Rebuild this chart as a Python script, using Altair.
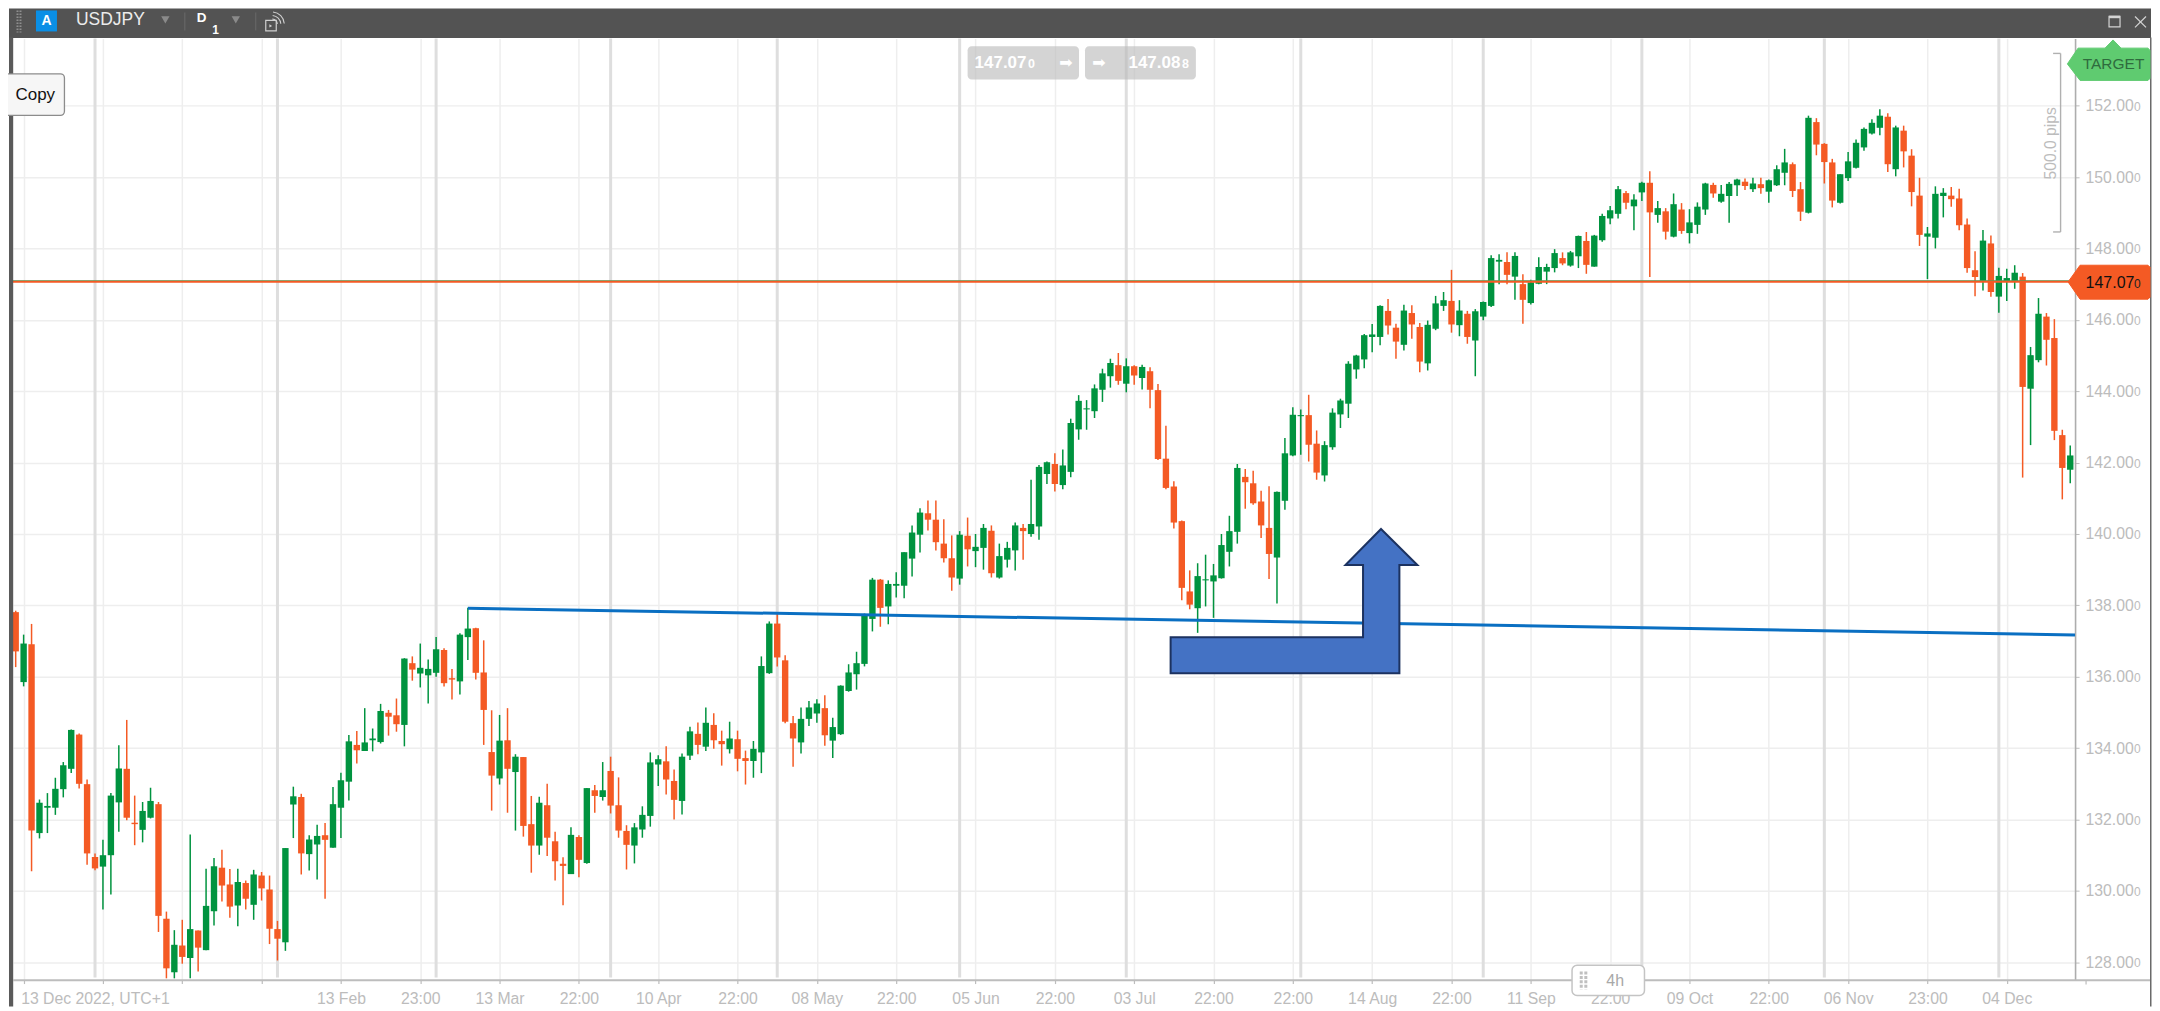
import json
import altair as alt
import pandas as pd

# ---- candle values (USDJPY daily) ----
highs = [137.85,137.18,137.48,132.56,132.74,133.17,133.61,134.52,134.41,133.12,
131.05,131.43,132.74,134.08,134.79,132.67,132.49,132.89,132.49,129.42,
128.9,129.19,131.58,128.89,130.62,130.92,131.15,130.61,130.62,130.29,
130.59,130.53,130.43,129.16,131.2,132.92,132.72,131.56,131.85,131.9,
132.91,133.31,134.37,134.48,135.12,134.55,135.24,135.07,135.39,136.52,
136.57,136.93,136.48,137.11,136.8,136.22,137.22,137.93,137.37,137.02,
135.06,134.93,135.12,133.83,133.75,132.66,132.64,133.0,131.66,130.94,
131.78,131.56,132.88,132.97,133.61,133.76,133.18,131.84,131.9,132.37,
133.88,133.8,134.05,133.4,133.85,134.6,134.72,135.14,134.98,134.49,
134.74,134.49,133.93,134.2,136.57,137.55,137.78,136.6,134.9,135.14,
135.32,135.37,135.48,134.85,135.76,136.35,136.7,137.77,138.77,138.74,
138.7,138.93,139.49,140.24,140.72,140.94,140.94,140.41,139.96,140.08,
140.46,140.0,140.28,140.24,139.73,139.78,140.32,140.28,141.52,141.93,
142.03,142.26,142.37,143.23,143.89,143.75,144.19,144.63,144.91,145.07,
144.92,144.73,144.74,144.67,144.2,143.03,141.48,140.38,138.98,139.18,
139.42,139.16,140.0,140.51,141.96,141.82,141.77,141.21,141.34,141.19,
142.69,143.55,143.49,143.9,142.9,142.6,143.52,143.79,144.84,145.02,
145.6,145.88,146.41,146.58,145.89,146.42,146.41,145.91,145.98,146.67,
146.78,147.4,146.55,146.25,146.3,146.51,147.81,147.84,147.89,147.89,
147.28,147.12,147.75,147.57,147.98,147.89,147.93,148.36,148.46,148.38,
148.97,149.19,149.75,149.61,149.52,149.87,150.16,149.33,149.13,149.54,
149.27,149.1,149.29,149.84,149.84,149.78,149.86,149.95,149.96,149.98,
149.98,149.93,150.33,150.79,150.41,149.86,151.72,151.65,150.95,150.51,
150.08,150.7,151.05,151.39,151.62,151.9,151.79,151.44,151.44,150.78,
149.98,148.6,149.74,149.69,149.72,149.67,148.84,147.92,148.52,148.36,
147.46,147.43,147.53,147.31,145.24,146.61,146.19,146.02,142.92,142.48]

body_top = [137.81,136.93,136.91,132.47,132.38,132.86,133.52,134.51,134.38,132.99,
130.95,131.0,132.67,133.43,133.42,131.91,132.24,132.52,132.43,129.22,
128.49,128.47,128.93,128.89,129.58,130.69,130.65,130.18,130.25,130.22,
130.46,130.43,130.04,128.93,131.2,132.65,132.63,131.44,131.54,131.56,
132.43,133.1,134.19,134.09,134.16,134.27,135.04,134.99,134.92,136.51,
136.38,136.25,136.22,136.77,136.75,135.96,137.18,137.35,137.36,136.12,
133.89,134.21,134.22,133.76,133.75,131.87,132.47,132.4,131.39,130.76,
131.57,131.51,132.88,132.82,132.82,133.36,132.4,131.68,131.78,132.13,
133.6,133.69,133.63,133.08,133.76,134.47,134.4,134.71,134.65,134.2,
134.27,134.25,133.72,133.98,136.3,137.49,137.49,136.46,134.7,134.82,
135.14,135.25,135.12,134.59,135.75,136.12,136.38,137.71,138.72,138.72,
138.6,138.6,139.49,140.04,140.6,140.58,140.4,139.73,139.32,139.98,
139.95,139.64,140.17,140.09,139.38,139.61,140.24,140.17,140.28,141.88,
142.01,141.96,141.92,143.11,143.73,143.52,144.08,144.5,144.79,144.73,
144.7,144.7,144.68,144.56,144.03,142.11,141.33,140.36,138.39,138.82,
138.73,138.84,139.69,140.08,141.85,141.6,141.42,140.91,140.17,141.18,
142.26,143.34,143.33,143.33,142.53,142.49,143.4,143.74,144.77,145.0,
145.57,145.59,146.39,146.25,145.78,146.26,146.19,145.8,145.86,146.46,
146.55,146.53,146.26,146.17,146.24,146.5,147.73,147.68,147.62,147.79,
147.0,147.05,147.48,147.48,147.87,147.73,147.89,148.35,148.21,148.36,
148.91,149.07,149.66,149.55,149.37,149.84,149.84,149.13,149.04,149.24,
149.09,148.73,149.17,149.82,149.78,149.53,149.81,149.93,149.87,149.82,
149.8,149.91,150.22,150.41,150.36,149.66,151.66,151.54,150.93,150.41,
150.08,150.44,150.96,151.35,151.52,151.72,151.69,151.39,151.3,150.6,
149.48,148.42,149.53,149.56,149.48,149.4,148.67,147.39,148.22,148.14,
147.23,147.17,147.32,147.21,145.01,146.17,146.09,145.49,142.77,142.2]

body_bottom = [136.71,135.85,131.69,131.62,132.33,132.33,132.85,133.42,133.0,131.05,
130.63,130.68,131.0,132.48,132.05,131.87,131.71,132.05,129.3,127.83,
127.72,128.15,128.12,128.41,128.34,129.43,130.15,129.56,129.59,129.78,
129.61,130.07,128.94,128.66,128.56,132.42,131.05,131.03,131.3,131.43,
131.21,132.33,133.06,133.94,133.92,134.22,134.17,134.88,134.67,134.65,
136.2,136.09,136.04,136.11,135.82,135.92,135.87,137.11,136.11,135.07,
133.23,133.15,133.42,133.33,131.82,131.27,131.27,131.49,130.83,130.7,
130.47,130.87,130.78,132.66,132.63,132.39,131.69,131.29,131.27,131.72,
132.1,133.54,133.12,132.55,132.52,133.79,134.09,134.04,134.22,134.11,
133.97,133.7,133.64,133.64,133.88,136.1,136.54,134.74,134.27,134.16,
134.82,134.97,134.36,134.21,134.39,135.6,136.07,136.36,137.62,137.93,
137.97,138.55,138.55,139.31,139.98,140.4,139.77,139.32,138.78,138.75,
139.57,139.52,139.61,138.9,138.78,139.28,139.54,140.08,140.0,140.21,
141.68,141.4,141.37,141.74,142.93,143.49,143.44,144.04,144.42,144.29,
144.21,144.44,144.37,144.04,142.1,141.29,140.32,138.49,138.02,137.92,
138.7,138.67,138.76,139.5,140.06,141.45,140.86,140.24,139.44,139.34,
140.93,142.2,143.3,142.5,141.72,141.64,142.43,143.35,143.65,144.61,
144.89,145.52,145.52,145.84,145.39,145.3,145.87,144.83,144.78,145.75,
146.39,145.87,145.85,145.52,145.42,146.09,146.39,147.63,147.26,147.21,
146.56,146.47,147.01,147.35,147.45,147.58,147.52,147.78,147.54,147.49,
148.23,148.84,148.97,149.28,149.18,149.57,149.01,148.94,148.47,148.33,
148.49,148.43,148.66,149.09,149.54,149.31,149.47,149.77,149.75,149.66,
149.69,149.59,149.77,150.12,149.61,149.03,149.0,150.91,150.42,149.34,
149.28,149.97,150.26,150.83,151.22,151.38,150.36,150.22,150.72,149.58,
148.38,148.33,148.3,149.47,149.38,148.65,147.45,147.2,147.09,146.78,
146.65,147.08,147.09,144.12,144.07,144.87,145.44,142.89,141.85,141.8]

lows = [136.27,135.73,130.55,131.47,131.62,132.13,132.62,133.3,132.87,130.73,
130.58,129.48,129.9,131.66,131.98,131.28,131.36,132.03,128.85,127.55,
127.55,127.96,127.55,127.74,128.34,129.03,129.7,129.25,129.01,129.48,
129.19,129.73,128.51,128.05,128.32,131.48,130.46,130.57,130.32,129.78,
131.21,131.48,132.53,133.57,133.92,133.91,134.13,134.35,134.46,134.05,
135.89,135.7,135.25,136.0,135.73,135.36,135.5,136.47,135.92,134.09,
132.25,132.98,132.19,131.69,131.52,130.51,131.01,130.98,130.29,129.6,
130.47,130.38,130.76,132.19,132.53,132.17,131.49,130.6,130.77,131.49,
131.8,132.94,132.7,132.0,132.14,133.67,133.83,133.92,133.98,133.51,
133.85,133.35,132.98,133.17,133.3,136.08,136.29,134.7,133.48,133.85,
134.62,134.71,134.07,133.72,134.37,135.58,135.64,136.29,137.27,137.4,
137.47,138.22,138.2,138.81,139.48,140.1,139.54,139.2,138.41,138.58,
139.09,139.07,139.0,138.78,138.75,139.06,138.98,139.28,139.92,139.84,
141.4,141.19,141.25,141.59,142.64,142.92,143.25,143.7,144.1,144.18,
143.97,144.18,144.05,143.52,142.07,141.25,140.15,138.14,137.89,137.23,
137.97,137.65,138.75,139.09,139.73,140.71,140.82,139.89,138.74,138.05,
140.68,142.18,142.22,142.03,141.52,141.47,142.36,142.97,143.25,144.35,
144.64,145.09,145.29,145.59,144.91,145.14,145.47,144.53,144.58,145.71,
146.25,145.64,145.54,145.33,144.42,145.99,146.36,147.0,147.0,146.56,
145.89,146.43,147.0,147.0,147.33,147.53,147.49,147.45,147.29,147.49,
148.19,148.68,148.84,149.1,148.51,149.33,147.2,148.72,148.25,148.31,
148.41,148.14,148.41,148.94,149.42,149.28,148.72,149.47,149.64,149.58,
149.53,149.28,149.75,149.77,149.44,148.77,148.98,150.61,149.82,149.15,
149.26,149.89,150.24,150.74,151.19,151.17,150.14,150.02,150.27,149.18,
148.07,147.14,148.0,148.87,149.17,148.51,147.32,146.66,146.82,146.65,
146.2,146.53,146.87,141.58,142.49,144.81,144.72,142.63,140.97,141.42]

direction = ("RGRGGGGGRR" "RGGGRRGGRR" "GRGRGGRRGR" "GRRRGGRGGR" "GGGRGGGRRG"
             "RGGGRRGGRR" "RGRGRRGRRR" "GRGRGRRRGG" "GGRRGGRGRR" "GRRGGGRRRG"
             "GGRGGGGGGR" "GGGGGRRRRG" "RGGRGGGRGG" "GRGGGGGGGR" "GRGRRRRRRG"
             "GGGGGRRRRG" "GGGRRGGGGG" "GGGRRGRRGG" "GRGRGGGGRG" "RGGGGRGGRG"
             "GGGRGGRGRG" "RGGGRGGGRG" "RGGGRRGRRR" "GGGGGGRGRR" "RGGGRRRRGR"
             "GGGRGGRRRG")

assert len(highs) == len(body_top) == len(body_bottom) == len(lows) == len(direction) == 260

tick_idx = list(range(1, 260, 10))
tick_labels = ["13 Dec 2022, UTC+1", "", "", "", "13 Feb", "23:00", "13 Mar", "22:00",
               "10 Apr", "22:00", "08 May", "22:00", "05 Jun", "22:00", "03 Jul", "22:00",
               "22:00", "14 Aug", "22:00", "11 Sep", "22:00", "09 Oct", "22:00", "06 Nov",
               "23:00", "04 Dec"]
price_ticks = list(range(128, 154, 2))
session_idx = [10, 33, 53, 75, 96, 119, 140, 162, 185, 205, 228, 250]

support_x = [57, 259.6]
support_y = [137.92, 137.17]
bid = 147.07
ask = 147.088

GREEN = "#00933f"
ORANGE = "#f45a24"
GRID = "#eeeeee"
LABEL = "#bcbcbc"
BAR = "#535353"
FONT = "Liberation Sans"

# ---- scale & image-to-data helpers ----
LEFT, TOP, RIGHT_EDGE, BOTTOM_EDGE = 13, 38, 2077, 980
STEP, X0 = 7.94, 15.7
PPU, Y128 = 35.725, 962.7


def ix(px):
    return (px - X0) / STEP


def pr(py):
    return 128 + (Y128 - py) / PPU


def px(x):
    return x - LEFT


def py(y):
    return y - TOP


xs = alt.Scale(domain=[ix(LEFT), ix(RIGHT_EDGE)], nice=False, zero=False, padding=0)
ys = alt.Scale(domain=[pr(BOTTOM_EDGE), pr(TOP)], nice=False, zero=False, padding=0)
one = alt.Data(values=[{"a": 1}])

df = pd.DataFrame({
    "i": range(260), "high": highs, "low": lows, "top": body_top, "bottom": body_bottom,
    "dir": list(direction),
})
df["open"] = [b if d == "G" else t for b, t, d in zip(body_bottom, body_top, direction)]
df["close"] = [t if d == "G" else b for b, t, d in zip(body_bottom, body_top, direction)]
color = alt.Color("dir:N", scale=alt.Scale(domain=["G", "R"], range=[GREEN, ORANGE]), legend=None)

layers = []


def rect(x0, y0, x1, y1, fill, **kw):
    layers.append(alt.Chart(one).mark_rect(fill=fill, **kw).encode(
        x=alt.value(px(x0)), x2=alt.value(px(x1)), y=alt.value(py(y0)), y2=alt.value(py(y1))))


def line(x0, y0, x1, y1, col, w=1.0, **kw):
    layers.append(alt.Chart(one).mark_rule(color=col, strokeWidth=w, **kw).encode(
        x=alt.value(px(x0)), x2=alt.value(px(x1)), y=alt.value(py(y0)), y2=alt.value(py(y1))))


def text(x, y, s, size, col, align="left", bold=False, font=FONT, **kw):
    layers.append(alt.Chart(one).mark_text(
        align=align, baseline="middle", fontSize=size, color=col, font=font,
        fontWeight="bold" if bold else "normal", **kw).encode(
        x=alt.value(px(x)), y=alt.value(py(y)), text=alt.value(s)))


def poly(points, fill, stroke=None, w=1.0):
    d = pd.DataFrame({"x": [ix(p[0]) for p in points], "y": [pr(p[1]) for p in points],
                      "o": range(len(points))})
    kw = dict(interpolate="linear-closed", fill=fill, strokeWidth=w, stroke=stroke or fill)
    layers.append(alt.Chart(d).mark_line(**kw).encode(
        x=alt.X("x:Q", scale=xs, axis=None), y=alt.Y("y:Q", scale=ys, axis=None),
        order=alt.Order("o:Q")))


def tri(x, y, size=70, col="#8a8a8a"):
    layers.append(alt.Chart(one).mark_point(shape="triangle-down", filled=True, size=size,
                                            color=col, opacity=1).encode(
        x=alt.value(px(x)), y=alt.value(py(y))))


# session separators
layers.append(alt.Chart(pd.DataFrame({"s": session_idx})).mark_rule(
    color="#dedede", strokeWidth=3).encode(
    x=alt.X("s:Q", scale=xs, axis=None), y=alt.value(0), y2=alt.value(py(978))))

# wicks carry the axes
layers.append(alt.Chart(df).mark_rule(strokeWidth=1.5).encode(
    x=alt.X("i:Q", scale=xs, title=None, axis=alt.Axis(
        values=tick_idx, grid=True, gridColor=GRID, gridWidth=1.5, domain=False,
        tickColor="#bdbdbd", tickSize=4, tickWidth=1.2,
        labelExpr=json.dumps(tick_labels) + "[(datum.value-1)/10]",
        labelColor=LABEL, labelFont=FONT, labelFontSize=15.8, labelPadding=8,
        labelOverlap=False, labelFlush=False, labelBound=False,
        labelOffset={"condition": {"test": "datum.value==1", "value": -3}, "value": 0},
        labelAlign={"condition": {"test": "datum.value==1", "value": "left"}, "value": "center"})),
    y=alt.Y("high:Q", scale=ys, title=None, axis=alt.Axis(
        orient="right", values=price_ticks, format=".2f", grid=True, gridColor=GRID,
        gridWidth=1.5, domainColor="#adadad", domainWidth=1.6, tickColor="#bdbdbd",
        tickSize=4, labelColor=LABEL, labelFont=FONT, labelFontSize=15.8, labelPadding=6,
        labelOverlap=False, labelFlush=False, labelBound=False)),
    y2="low:Q", color=color))

# bodies
layers.append(alt.Chart(df).mark_bar(size=6.4).encode(
    x=alt.X("i:Q", scale=xs, axis=None), y=alt.Y("open:Q", scale=ys, axis=None),
    y2="close:Q", color=color))

# smaller last digit of the price labels
layers.append(alt.Chart(pd.DataFrame({"p": price_ticks})).mark_text(
    align="left", baseline="middle", fontSize=12, dy=1, color=LABEL, font=FONT).encode(
    x=alt.value(px(2136)), y=alt.Y("p:Q", scale=ys, axis=None), text=alt.value("0")))

# support line
layers.append(alt.Chart(pd.DataFrame({"x": support_x, "y": support_y})).mark_line(
    color="#0a6fc2", strokeWidth=3).encode(
    x=alt.X("x:Q", scale=xs, axis=None), y=alt.Y("y:Q", scale=ys, axis=None)))

# ask & bid lines
for val, col, w in [(ask, "#3aa765", 1.6), (bid, ORANGE, 2)]:
    layers.append(alt.Chart(pd.DataFrame({"x": [ix(LEFT), ix(2071)], "y": [val, val]})).mark_line(
        color=col, strokeWidth=w).encode(
        x=alt.X("x:Q", scale=xs, axis=None), y=alt.Y("y:Q", scale=ys, axis=None)))

# annotation arrow
poly([(1382.3, 529), (1418.7, 565), (1400.7, 565), (1400.7, 673.3), (1171.7, 673.3),
      (1171.7, 637.3), (1364.3, 637.3), (1364.3, 565), (1346.7, 565)],
     "#4472c4", "#1c3260", 2)

# top title bar
rect(9, 8, 2153, 37.5, BAR)
rect(9, 37, 13.2, 1007, "#5a5a5a")
rect(2152, 37, 2153.5, 1007, "#6a6a6a")
for gx in (17.5, 20.5):
    line(gx, 10, gx, 32, "#8f8f8f", 2, strokeDash=[1.6, 1.4])
rect(36, 10, 57, 31, "#0a8fe6")
text(46.5, 20.5, "A", 14, "white", align="center", bold=True)
text(76, 19.5, "USDJPY", 17.5, "#ececec")
tri(165.5, 19.5)
line(185, 12, 185, 30, "#6a6a6a", 1)
text(197, 17.5, "D", 13.5, "white", bold=True)
text(212.5, 29.5, "1", 12, "white", bold=True)
tri(236, 19.5)
line(256, 12, 256, 30, "#6a6a6a", 1)
rect(266, 20, 276.5, 30.5, "none", stroke="#d0d0d0", strokeWidth=1.2)
layers.append(alt.Chart(one).mark_point(shape="triangle-right", filled=True, size=10,
                                        color="#d0d0d0", opacity=1).encode(
    x=alt.value(px(271)), y=alt.value(py(25.5))))
for r in (5, 8.5, 12):
    layers.append(alt.Chart(one).mark_arc(innerRadius=r, outerRadius=r + 1.1, theta=0.1,
                                          theta2=1.5, color="#d0d0d0").encode(
        x=alt.value(px(272)), y=alt.value(py(24))))
rect(2111, 16, 2122, 26.5, "none", stroke="#d4d4d4", strokeWidth=1.2)
line(2111, 16.5, 2122, 16.5, "#d4d4d4", 2.5)
line(2137, 16, 2148, 27, "#d4d4d4", 1.2)
line(2137, 27, 2148, 16, "#d4d4d4", 1.2)

# copy button
rect(4, 73.5, 64.5, 115, "#f6f6f6", stroke="#8c8c8c", strokeWidth=1.3, cornerRadius=4)
text(15.5, 94.5, "Copy", 17, "#111111")

# price boxes on top
rect(968.5, 45.7, 1080, 79, "#b9b9b9", opacity=0.62, cornerRadius=4)
rect(1086, 45.7, 1197, 79, "#b9b9b9", opacity=0.62, cornerRadius=4)
text(975.5, 62.5, "147.07", 17, "white", bold=True)
text(1029, 63.5, "0", 12.5, "white", bold=True)
text(1067, 62.5, "\u27a1", 16, "white", align="center", font="DejaVu Sans")
text(1100, 62.5, "\u27a1", 16, "white", align="center", font="DejaVu Sans")
text(1129.5, 62.5, "147.08", 17, "white", bold=True)
text(1183, 63.5, "8", 12.5, "white", bold=True)

# target tag
poly([(2069.3, 63.5), (2080, 47.7), (2107, 47.7), (2115, 39.5), (2123, 47.7), (2150, 47.7),
      (2152, 50), (2152, 78), (2150, 80), (2082, 80)], "#5fcb70")
text(2115.5, 64, "TARGET", 15.5, "#2f6b3e", align="center")

# pips bracket
for a in ([(2055, 53), (2062.5, 53)], [(2062.5, 53), (2062.5, 231.7)], [(2055, 231.7), (2062.5, 231.7)]):
    line(a[0][0], a[0][1], a[1][0], a[1][1], "#b0b0b0", 1.4)
text(2052.5, 143, "500.0 pips", 15.7, LABEL, align="center", angle=270)

# current price tag
poly([(2070, 281.7), (2082, 265), (2150, 265), (2152, 267), (2152, 297), (2150, 299), (2082, 299)],
     ORANGE)
text(2087.5, 282.5, "147.07", 16, "#111111")
text(2136, 283.5, "0", 12, "#222222")

# x axis line and last tick
line(LEFT, 980.7, 2152, 980.7, "#bdbdbd", 2)
line(2088, 981, 2088, 985, "#bdbdbd", 1.2)

# 4h pill
rect(1573.5, 965.7, 1646, 996, "white", stroke="#c4c4c4", strokeWidth=1.5, cornerRadius=5)
for dx in (1582.7, 1587.3):
    line(dx, 972, dx, 990, "#c0c0c0", 3, strokeDash=[3, 1.4])
text(1616.7, 981, "4h", 16, "#a8a8a8", align="center")

chart = alt.layer(*layers).resolve_axis(x="independent", y="independent").properties(
    width=RIGHT_EDGE - LEFT,
    height=BOTTOM_EDGE - TOP,
    padding={"left": 5, "top": 30, "right": 77, "bottom": 27},
    autosize=alt.AutoSizeParams(type="none"),
    background="white",
).configure_view(stroke=None)

chart.save("out.html", embed_options={"renderer": "svg", "actions": False})
